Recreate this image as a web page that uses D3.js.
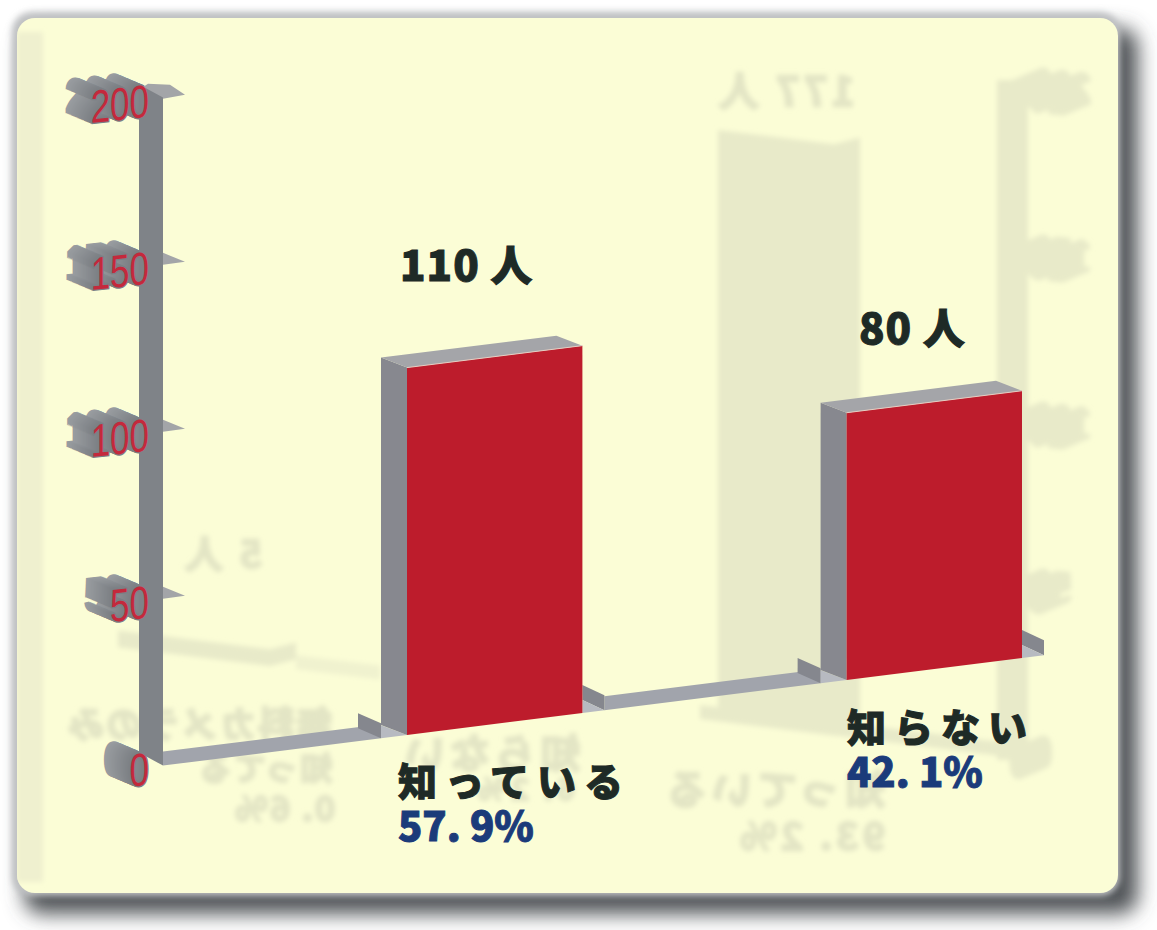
<!DOCTYPE html>
<html lang="ja">
<head>
<meta charset="utf-8">
<title>認知度</title>
<script src="https://cdn.jsdelivr.net/npm/d3@7/dist/d3.min.js"></script>
<style>
  html, body { margin: 0; padding: 0; background: #fff; }
  svg { display: block; }
  text { font-family: "Noto Sans CJK JP", "Noto Sans", sans-serif; }
  .tick-label { font-family: "Liberation Sans", sans-serif; }
</style>
</head>
<body>
<svg id="chart" width="1157" height="930"></svg>
<script>
// Survey result: who knows about the scheme
const categories = ["知っている", "知らない"];
const counts = [110, 80];
const shares = ["57. 9%", "42. 1%"];
const countUnit = "人";
const yTicks = [0, 50, 100, 150, 200];

// Reverse side of the printed sheet, showing through the paper
const reverseCounts = [177, 5];
const reverseCountLabels = ["177 人", "5 人"];
const reverseLabels = ["知っている", "93. 2%", "知らない", "6. 2%", "無料カメラのみ", "知ってる", "0. 6%"];

const W = 1157, H = 930;
const svg = d3.select("#chart");
const defs = svg.append("defs");

defs.append("filter").attr("id", "soft").attr("x", "-20%").attr("y", "-20%").attr("width", "140%").attr("height", "140%")
  .append("feGaussianBlur").attr("stdDeviation", 10);
defs.append("filter").attr("id", "softEdge").attr("x", "-5%").attr("y", "-5%").attr("width", "110%").attr("height", "110%")
  .append("feGaussianBlur").attr("stdDeviation", 3);
defs.append("filter").attr("id", "showThrough").attr("x", "-5%").attr("y", "-5%").attr("width", "110%").attr("height", "110%")
  .append("feGaussianBlur").attr("stdDeviation", 2.4);
defs.append("clipPath").attr("id", "cardClip")
  .append("rect").attr("x", 17).attr("y", 18).attr("width", 1101).attr("height", 875).attr("rx", 18);

// Scales: bar slots along the sloped floor, value to drawn height, floor line
const x = d3.scaleBand().domain(categories).range([407, 1022]).paddingInner(0.601).paddingOuter(0);
const h = d3.scaleLinear().domain([0, 200]).range([0, 668]);
const floorY = d3.scaleLinear().domain([407, 846]).range([735, 680]);
const reverseFloorY = d3.scaleLinear().domain([847, 717]).range([737, 721]);

const colors = {
  card: "#fbfdd6", red: "#bd1c2c", side: "#87888f", top: "#a4a5a9", floor: "#a1a4ac",
  wall: "#85878e", pale: "#b7bac1", axis: "#7f8388", fin: "#a3a5a8", tick: "#c4293c",
  ink: "#1e2a26", blue: "#1b3b7a", ghost: "#e8eac9", ghostText: "#e3e5c5"
};

const path = d3.line();
const poly = (g, pts, fill) => g.append("path").attr("d", path(pts) + "Z").attr("fill", fill);

// Card and its cast shadow
svg.append("rect").attr("x", 24).attr("y", 28).attr("width", 1114).attr("height", 886).attr("rx", 18)
  .attr("fill", "#4f5256").attr("filter", "url(#soft)");
svg.append("rect").attr("x", 12).attr("y", 12).attr("width", 1108).attr("height", 884).attr("rx", 20)
  .attr("fill", "#bfc1c3").attr("filter", "url(#softEdge)");
svg.append("rect").attr("x", 17).attr("y", 18).attr("width", 1101).attr("height", 875).attr("rx", 18)
  .attr("fill", colors.card);

// Faint print from the other side of the sheet
const ghost = svg.append("g").attr("clip-path", "url(#cardClip)").append("g").attr("filter", "url(#showThrough)");
ghost.append("rect").attr("x", 17).attr("y", 32).attr("width", 26).attr("height", 850).attr("fill", "#eff0cf");

const ghostBar = (left, right, value) => {
  const ht = h(value);
  const depth = 26, rise = 10;
  const frontRight = right - depth;
  poly(ghost, [
    [left, reverseFloorY(left) - ht],
    [frontRight, reverseFloorY(frontRight) - ht],
    [right, reverseFloorY(right) - ht - rise],
    [right, reverseFloorY(right) - rise],
    [frontRight, reverseFloorY(frontRight)],
    [left, reverseFloorY(left)]
  ], colors.ghost);
};
ghostBar(718, 860, reverseCounts[0]);
ghostBar(118, 296, reverseCounts[1]);

const ghostFloor = (a, b, fill) => poly(ghost, [
  [a, reverseFloorY(a) - 14], [b, reverseFloorY(b) - 14], [b, reverseFloorY(b)], [a, reverseFloorY(a)]
], fill);
ghostFloor(296, 380, "#f0f2cf");
ghostFloor(700, 1030, colors.ghost);
ghost.append("rect").attr("x", 997).attr("y", 80).attr("width", 31).attr("height", 680).attr("fill", colors.ghost);

// Mirrored tick numerals of the reverse chart
const tickTransform = v => {
  const yPos = floorY(185) - h(v) + 22;
  return `translate(149,${yPos}) skewY(-6) scale(0.76,1)`;
};
const ghostTicks = ghost.append("g").attr("transform", `translate(${W},-7) scale(-1,1)`);
yTicks.forEach(v => {
  d3.range(0, 1.01, 0.1).forEach(t => {
    ghostTicks.append("text").attr("class", "tick-label")
      .attr("transform", `translate(${-26 * t},${-11 * t}) ` + tickTransform(v))
      .attr("text-anchor", "end").attr("font-size", 46).attr("font-weight", 700)
      .attr("fill", colors.ghost).text(v);
  });
});

// Mirrored captions of the reverse chart
const ghostLabel = (txt, rightEdge, baseline, size, spacing) => {
  ghost.append("text").attr("transform", `translate(${rightEdge},${baseline}) scale(-1,1)`)
    .attr("font-size", size).attr("font-weight", 700).attr("letter-spacing", spacing)
    .attr("stroke", colors.ghostText).attr("stroke-width", 2.5)
    .attr("fill", colors.ghostText).text(txt);
};
ghostLabel(reverseCountLabels[0], 855, 106, 40, 4);
ghostLabel(reverseCountLabels[1], 262, 568, 38, 4);
ghostLabel(reverseLabels[0], 885, 804, 40, 5);
ghostLabel(reverseLabels[1], 885, 850, 38, 4);
ghostLabel(reverseLabels[2], 580, 768, 40, 5);
ghostLabel(reverseLabels[3], 575, 800, 30, 4);
ghostLabel(reverseLabels[4], 332, 738, 36, 2);
ghostLabel(reverseLabels[5], 332, 780, 32, 2);
ghostLabel(reverseLabels[6], 335, 821, 34, 2);

// Extruded tick numerals, drawn back to front, then the red faces
const chart = svg.append("g");
const ticks = chart.append("g");
const shade = d3.interpolateRgb("#999da1", "#7b7f84");
yTicks.forEach(v => {
  d3.range(1, -0.01, -0.05).forEach(t => {
    ticks.append("text").attr("class", "tick-label")
      .attr("transform", `translate(${-26 * t},${-11 * t}) ` + tickTransform(v))
      .attr("text-anchor", "end").attr("font-size", 46)
      .attr("stroke", shade(1 - t)).attr("stroke-width", 2.5)
      .attr("fill", shade(1 - t)).text(v);
  });
});

// Vertical axis post with its fins
const topOffset = h(200);
const axisLeft = 139, axisRight = 163, finTip = 185;
yTicks.filter(v => v > 0).forEach(v => {
  const tip = floorY(finTip) - h(v);
  if (v === 200) {
    poly(chart, [[148, tip - 11], [170, tip - 10], [finTip, tip], [axisRight, tip + 4], [axisLeft, tip - 5]], colors.fin);
  } else {
    poly(chart, [[axisRight, tip - 9], [finTip, tip], [axisRight, tip + 3]], colors.fin);
  }
});
poly(chart, [
  [axisLeft, floorY(axisLeft) - 16 - topOffset],
  [axisRight, floorY(axisRight) - topOffset],
  [axisRight, floorY(axisRight)],
  [axisLeft, floorY(axisLeft) - 16]
], colors.axis);

// Floor runs between the bars
const floorBand = (a, b) => poly(chart, [
  [a, floorY(a) - 14], [b, floorY(b) - 14], [b, floorY(b)], [a, floorY(a)]
], colors.floor);
floorBand(axisRight, x(categories[0]) - 26);
floorBand(x(categories[0]) + x.bandwidth() + 22, x(categories[1]) - 26);

// Small upright walls beside each bar, and the lit floor wedge under them
const wall = (back, front) => {
  poly(chart, [
    [back, floorY(back) - 28], [front, floorY(front) - 15],
    [front, floorY(front)], [back, floorY(back) - 13]
  ], colors.wall);
};
const wedge = (lo, hi) => {
  poly(chart, [[lo, floorY(lo) - 13], [hi, floorY(hi)], [lo, floorY(lo)]], colors.pale);
};

// Bars: side and top faces pushed back along the depth vector, red front face
const depthX = 26, depthY = 10;
categories.forEach((cat, i) => {
  const l = x(cat), r = l + x.bandwidth();
  const v = h(counts[i]);
  wall(l - 49, l - 26);
  wedge(l - 26, l);
  wall(r, r + 22);
  wedge(r, r + 22);
  poly(chart, [
    [l - depthX, floorY(l) - v - depthY], [l, floorY(l) - v],
    [l, floorY(l)], [l - depthX, floorY(l) - depthY]
  ], colors.side);
  poly(chart, [
    [l - depthX, floorY(l) - v - depthY], [r - depthX, floorY(r) - v - depthY],
    [r, floorY(r) - v], [l, floorY(l) - v]
  ], colors.top);
  poly(chart, [
    [l, floorY(l) - v], [r, floorY(r) - v], [r, floorY(r)], [l, floorY(l)]
  ], colors.red);
  chart.append("line").attr("x1", l).attr("y1", floorY(l) - v).attr("x2", r).attr("y2", floorY(r) - v)
    .attr("stroke", "#e4cfc4").attr("stroke-width", 1);
});

// Red tick numerals on the front of the extrusions
yTicks.forEach(v => {
  chart.append("text").attr("class", "tick-label")
    .attr("transform", tickTransform(v))
    .attr("text-anchor", "end").attr("font-size", 46)
    .attr("fill", colors.tick).text(v);
});

// Count above each bar, category and share below it
const labelSpots = [
  { countX: 400, countY: 281, nameX: 398, nameY: 796, shareY: 841 },
  { countX: 859, countY: 344, nameX: 847, nameY: 742, shareY: 787 }
];
const heavy = sel => sel.attr("font-weight", 900).attr("stroke-width", 1);
categories.forEach((cat, i) => {
  const s = labelSpots[i];
  chart.append("text").attr("x", s.countX).attr("y", s.countY)
    .attr("font-size", 42).attr("letter-spacing", 1).attr("fill", colors.ink).attr("stroke", colors.ink)
    .call(heavy).text(`${counts[i]} ${countUnit}`);
  chart.append("text").attr("x", s.nameX).attr("y", s.nameY)
    .attr("font-size", 39).attr("letter-spacing", 8).attr("fill", colors.ink).attr("stroke", colors.ink)
    .call(heavy).text(cat);
  chart.append("text").attr("x", s.nameX).attr("y", s.shareY)
    .attr("font-size", 40).attr("fill", colors.blue).attr("stroke", colors.blue)
    .call(heavy).text(shares[i]);
});
</script>
</body>
</html>
